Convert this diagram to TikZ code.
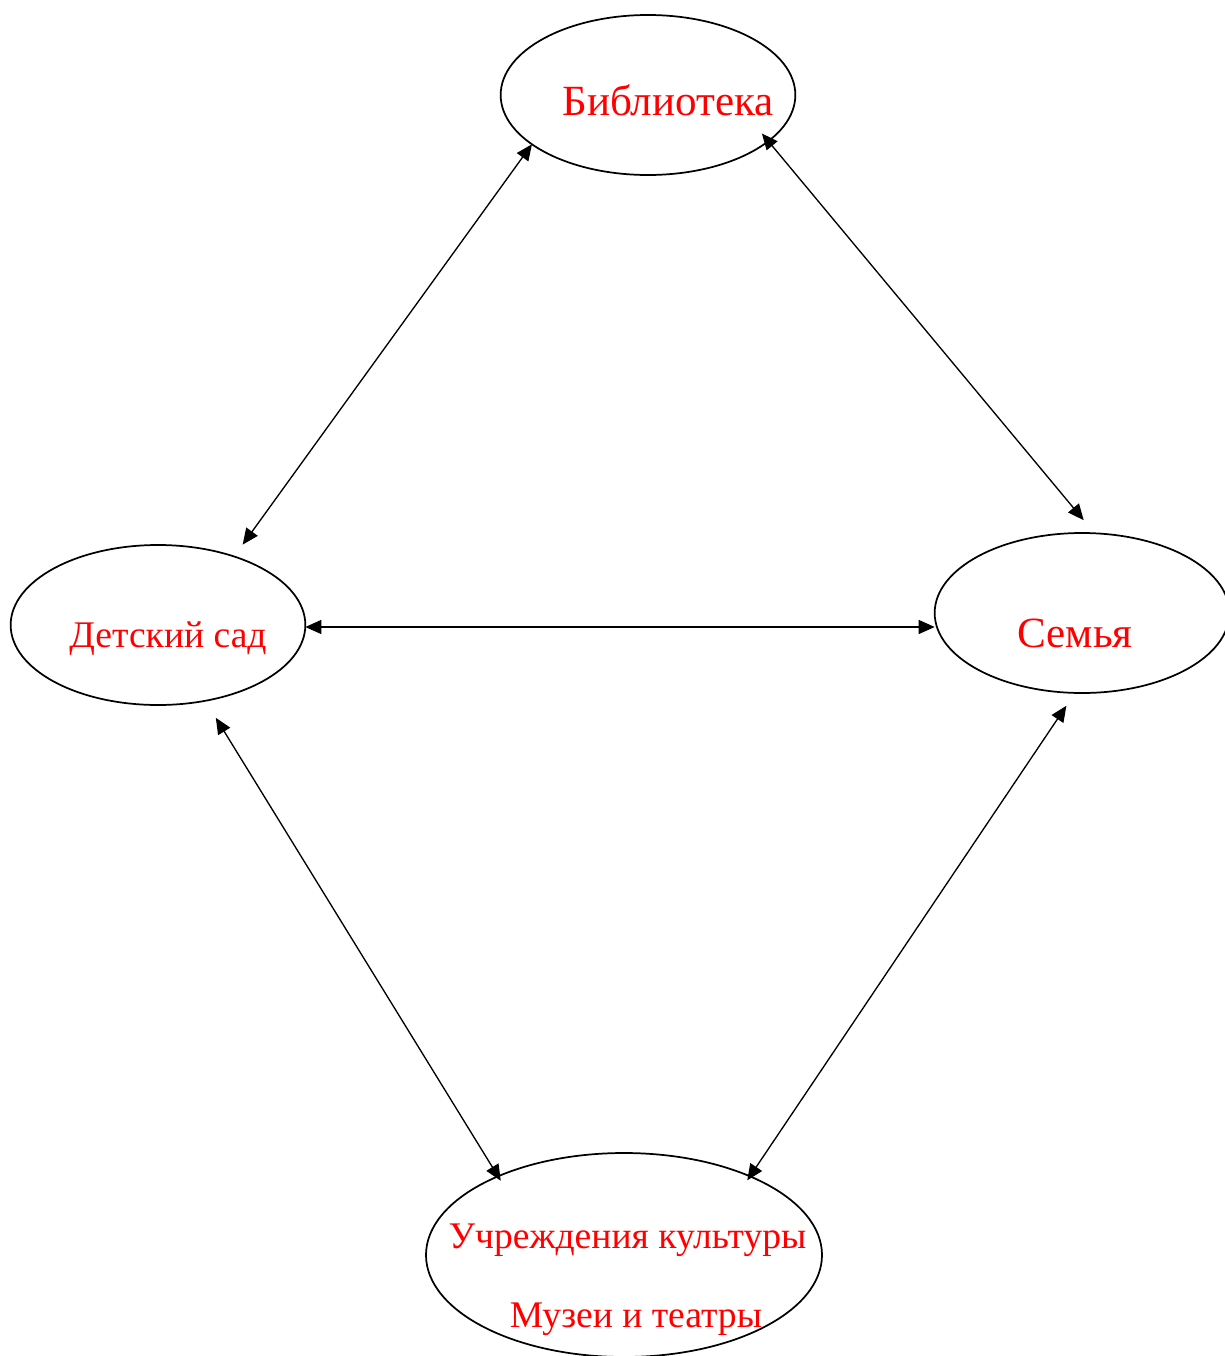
\documentclass[tikz,border=0pt]{standalone}
\usepackage{fontspec}
\setmainfont{Liberation Serif}
\usetikzlibrary{shapes.geometric,arrows.meta}

\tikzset{
	bubble/.style={draw, ellipse, line width=1.3pt, inner sep=0pt, outer sep=0pt,
		minimum width=221pt, minimum height=120pt},
	lbl/.style={text=red, anchor=base, inner sep=0pt},
	big/.style={font=\fontsize{32.3}{38}\selectfont},
	small/.style={font=\fontsize{28.2}{33}\selectfont},
	link/.style={<->, >={Triangle[length=12pt,width=10.5pt]}, line width=1pt}
}

\begin{document}
\begin{tikzpicture}[x=0.75pt,y=-0.75pt]
	\useasboundingbox (0,0) rectangle (1224,1356);
	% ellipses
	\node[bubble] (lib) at (648,95) {};
	\node[bubble] (kg) at (158,625) {};
	\node[bubble] (fam) at (1082,613) {};
	\node[bubble, minimum width=297pt, minimum height=153pt] (cult) at (624,1255) {};
	% texts
	\node[lbl, big] (libtext) at (668,115) {Библиотека};
	\node[lbl, small] (kgtext) at (168,647) {Детский сад};
	\node[lbl, big] (famtext) at (1075,647) {Семья};
	\node[lbl, small] (culttext) at (627.5,1248) {Учреждения культуры};
	\node[lbl, small] (museums) at (636,1327) {Музеи и театры};
	% links
	\draw[link, shorten >=11pt] (lib.203.7) -- (kg.42.4);
	\draw[link, shorten <=-7.5pt, shorten >=12.8pt] (lib.339.7) -- (fam.81.5);
	\draw[link] ([yshift=-1.5pt]kg.east) -- ([yshift=-1.5pt]kg.east -| fam.west);
	\draw[link, shorten <=15pt, shorten >=-3.9pt] (kg.302.6) -- (cult.148.3);
	\draw[link, shorten <=11.6pt, shorten >=-3.6pt] (fam.265) -- (cult.32.2);
\end{tikzpicture}
\end{document}
